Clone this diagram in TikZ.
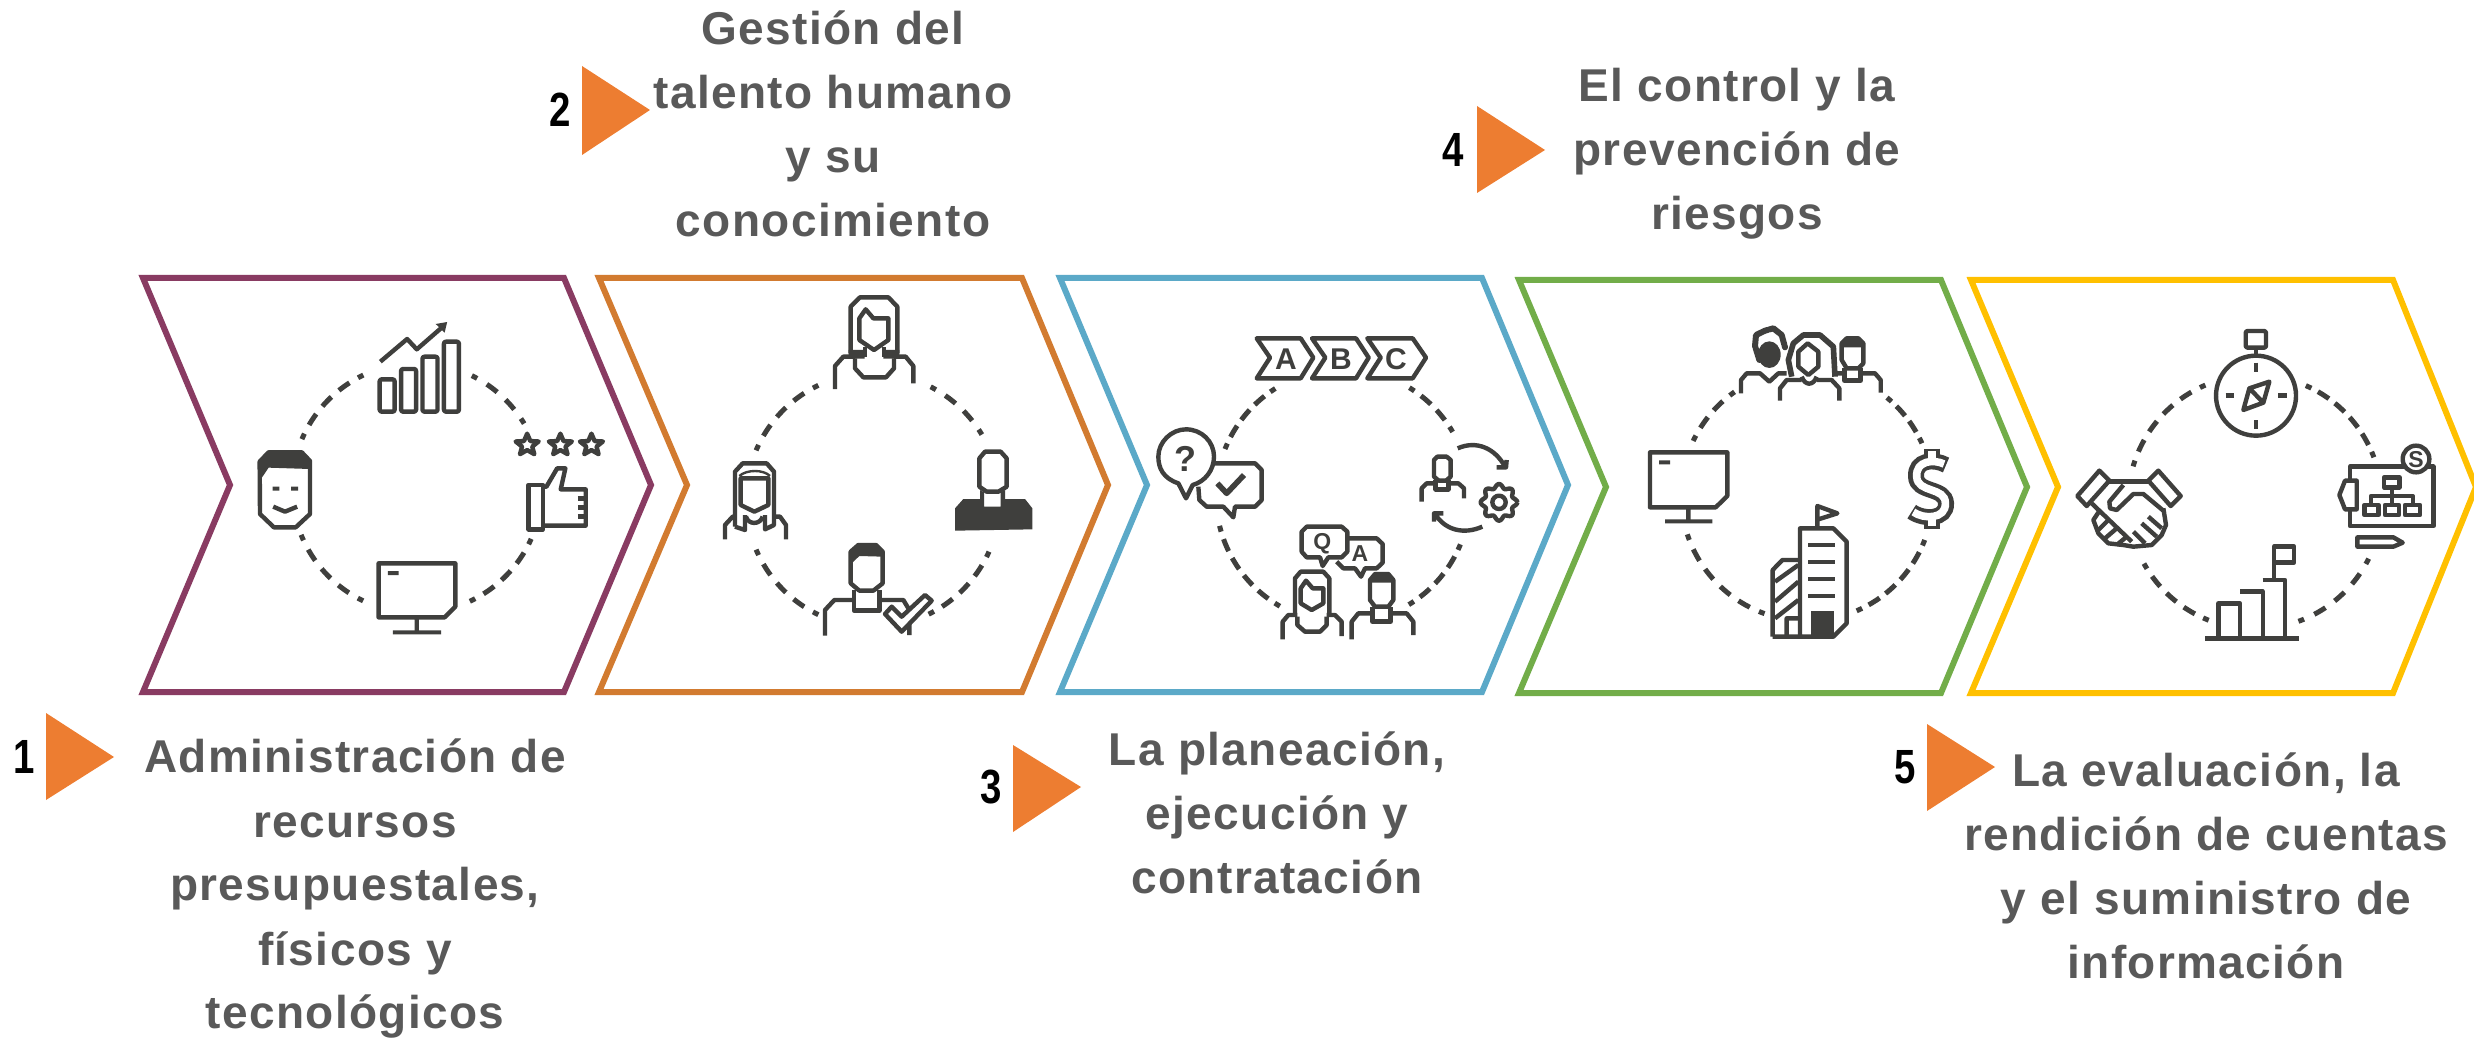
\documentclass[tikz,border=0pt]{standalone}
\usepackage{fontspec}
\setmainfont{Liberation Sans}
\newfontfamily\lblfont[LetterSpace=3]{Liberation Sans}
\definecolor{cpurple}{HTML}{893B62}
\definecolor{corange}{HTML}{D27B30}
\definecolor{cblue}{HTML}{5BA9C8}
\definecolor{cgreen}{HTML}{72AD49}
\definecolor{cgold}{HTML}{FFC000}
\definecolor{cico}{HTML}{3F3F3D}
\definecolor{ctext}{HTML}{595959}
\definecolor{ctri}{HTML}{ED7D31}
\tikzset{
  chev/.style={line width=3pt,miter limit=10,fill=white},
  ico/.style={draw=cico,line width=2.2pt,line join=round},
  icw/.style={draw=cico,fill=white,line width=2.2pt,line join=round},
  zf/.style n args={3}{shift={(#1,#2)},x=#3,y=-0.16667pt},
  lbl/.style={align=center,text=ctext,font=\lblfont\bfseries\fontsize{23pt}{32pt}\selectfont,inner sep=0pt},
  num/.style={text=black,font=\bfseries\fontsize{24pt}{28pt}\selectfont,xscale=.8,inner sep=0pt},
  tri/.style={fill=ctri,draw=none},
  glyph/.style={text=cico,font=\bfseries\fontsize{#1}{#1}\selectfont,inner sep=0pt},
}
\newcommand\cyc[6]{% cx cy R a b n
  \pgfmathsetmacro\gp{(#3*rad(#5-#4)-12-13*#6)/(#6+1)*0.5}
  \ifcase#6\or\or
    \def\dpat{on 3pt off \gp pt on 6.5pt off \gp pt on 6.5pt off \gp pt on 3pt off 100pt}\or
    \def\dpat{on 3pt off \gp pt on 6.5pt off \gp pt on 6.5pt off \gp pt on 6.5pt off \gp pt on 3pt off 100pt}\or
    \def\dpat{on 3pt off \gp pt on 6.5pt off \gp pt on 6.5pt off \gp pt on 6.5pt off \gp pt on 6.5pt off \gp pt on 3pt off 100pt}\fi
  \draw[draw=cico,line width=2.5pt,dash pattern/.expanded={\dpat}] plot[domain=#4:#5,samples=40] ({#1+#3*cos(\x)},{#2+#3*sin(\x)});
}
\newcommand\starico[3]{\draw[ico,shift={(#1,#2)},scale=#3] (0,-1)--(.26,-.35)--(.95,-.31)--(.42,.14)--(.59,.81)--(0,.45)--(-.59,.81)--(-.42,.14)--(-.95,-.31)--(-.26,-.35)--cycle;}
\begin{document}
\begin{tikzpicture}[x=0.5pt,y=-0.5pt]
\useasboundingbox (0,0) rectangle (2474,1042);
% chevrons
\draw[chev,draw=cpurple] (143,278)--(564,278)--(651,485)--(564,692)--(143,692)--(230,485)--cycle;
\draw[chev,draw=corange] (599,278)--(1022,278)--(1108,485)--(1022,692)--(599,692)--(687,485)--cycle;
\draw[chev,draw=cblue] (1060,278)--(1482,278)--(1568,485)--(1482,692)--(1060,692)--(1147,485)--cycle;
\draw[chev,draw=cgreen] (1519,280)--(1941,280)--(2027,487)--(1941,693)--(1519,693)--(1606,487)--cycle;
\draw[chev,draw=cgold] (1971,280)--(2393,280)--(2476,487)--(2393,693)--(1971,693)--(2058,487)--cycle;
% dashed rings
\cyc{417}{488}{125}{-64}{-31}{2}\cyc{417}{488}{125}{24}{65}{3}\cyc{417}{488}{125}{115.5}{158}{3}\cyc{417}{488}{125}{203}{244.6}{3}
\cyc{873}{500}{127}{-63}{-31}{2}\cyc{873}{500}{127}{24}{64}{3}\cyc{873}{500}{127}{115.5}{157}{3}\cyc{873}{500}{127}{203}{244.5}{3}
\cyc{1343}{496}{127}{-58.5}{-30.3}{2}\cyc{1343}{496}{127}{22.4}{58.8}{3}\cyc{1343}{496}{127}{119.8}{166.4}{4}\cyc{1343}{496}{127}{201.7}{237.8}{3}
\cyc{1807}{495}{126}{-50.6}{-24.2}{2}\cyc{1807}{495}{126}{20.9}{66.8}{4}\cyc{1807}{495}{126}{109.7}{161.8}{4}\cyc{1807}{495}{126}{205.4}{234.9}{2}
\cyc{2255}{502}{127}{-66.4}{-20.6}{4}\cyc{2255}{502}{127}{26.5}{70}{3}\cyc{2255}{502}{127}{111.4}{151}{3}\cyc{2255}{502}{127}{196.3}{247}{4}
% ---------- icons 1
\begin{scope}[zf={100}{260}{0.17857pt}]
\draw[ico,rounded corners=1pt] (783,358) rectangle (825,455) (843,327) rectangle (885,455) (903,290) rectangle (945,455) (963,245) rectangle (1005,455);
\draw[ico] (785,305)--(860,237)--(887,268)--(962,198);
\fill[cico] (972,186)--(940,192)--(965,218)--cycle;
\draw[ico] (447,605)--(472,577)--(565,577)--(588,603)--(588,762)--(548,802)--(487,802)--(448,762)--cycle;
\fill[cico] (447,605)--(472,577)--(565,577)--(588,603)--(588,627)--(472,623)--(452,655)--cycle;
\fill[cico] (483,680) rectangle (502,692) (535,680) rectangle (555,692);
\draw[ico] (485,740)--(518,755)--(552,740);
\starico{1196}{555}{34}\starico{1289}{555}{34}\starico{1376}{555}{34}
\draw[ico] (1200,675) rectangle (1240,808);
\draw[ico] (1240,680)--(1250,680)--(1280,625)--(1303,625)--(1290,688)--(1360,688)--(1360,797)--(1240,797);
\draw[ico] (1338,715)--(1360,715) (1338,742)--(1360,742) (1338,770)--(1360,770);
\draw[ico] (780,910)--(995,910)--(995,1040)--(965,1072)--(780,1072)--cycle (887,1072)--(887,1115);
\fill[cico] (806,933) rectangle (836,945) (820,1111) rectangle (955,1123);
\end{scope}
% ---------- icons 2
\begin{scope}[zf={590}{260}{0.16667pt}]
\draw[ico] (782,280)--(782,140)--(810,112)--(895,112)--(922,140)--(922,280);
\draw[ico] (808,240)--(808,175)--(827,148)--(850,175)--(895,175)--(895,240)--(852,270)--cycle;
\draw[ico] (825,262)--(825,290) (882,262)--(882,290);
\fill[cico] (776,270) rectangle (824,296) (880,270) rectangle (928,296);
\draw[ico] (795,295)--(795,325)--(820,352)--(888,352)--(912,325)--(912,295);
\draw[ico] (735,387)--(735,318)--(760,290)--(795,290) (970,370)--(970,318)--(947,290)--(912,290);
\draw[ico] (435,800)--(435,635)--(458,610)--(530,610)--(552,635)--(552,795)--(525,808)--(525,765) (435,800)--(465,810)--(465,765);
\draw[ico,line width=1.2pt] (448,648) .. controls (470,628) and (520,628) .. (540,648);
\draw[ico] (452,655)--(452,735)--(493,755)--(535,735)--(535,655)--cycle;
\draw[ico] (468,770) .. controls (475,795) and (510,795) .. (518,770);
\draw[ico] (405,838)--(405,795)--(428,770)--(435,770) (588,838)--(588,795)--(570,770)--(552,770);
\draw[ico] (1168,680)--(1168,595)--(1185,575)--(1232,575)--(1250,595)--(1250,680)--(1225,695)--(1190,695)--cycle;
\fill[cico] (1095,812)--(1095,745)--(1120,717)--(1170,717)--(1170,690)--(1182,697)--(1182,740)--(1232,740)--(1232,697)--(1245,690)--(1245,717)--(1305,717)--(1327,745)--(1327,808)--cycle;
\draw[ico] (782,970)--(782,875)--(805,855)--(858,855)--(878,875)--(878,970)--(850,992)--(808,992)--cycle;
\fill[cico] (782,875)--(805,855)--(858,855)--(878,875)--(878,890)--(808,888)--(790,905)--(782,915)--cycle;
\draw[ico] (792,990)--(792,1052)--(868,1052)--(868,990);
\draw[ico] (705,1127)--(705,1050)--(733,1020)--(792,1020) (868,1020)--(940,1020)--(958,1050)--(958,1125);
\draw[icw] (885,1062)--(905,1040)--(935,1070)--(1005,1005)--(1025,1022)--(935,1115)--cycle;
\end{scope}
% ---------- icons 3
\begin{scope}[zf={1060}{260}{0.16667pt}]
\draw[ico] (590,235)--(722,235)--(760,293)--(722,355)--(590,355)--(630,293)--cycle;
\draw[ico] (756,235)--(888,235)--(926,293)--(888,355)--(756,355)--(796,293)--cycle;
\draw[ico] (922,235)--(1058,235)--(1098,293)--(1058,355)--(922,355)--(962,293)--cycle;
\node[glyph=15pt] (la) at (678,297) {A};
\node[glyph=15pt] (lb) at (843,297) {B};
\node[glyph=15pt] (lc) at (1008,297) {C};
\draw[ico] (465,610)--(585,610)--(605,630)--(605,720)--(585,740)--(525,740)--(520,772)--(490,740)--(440,740)--(418,720)--(415,680);
\draw[icw] (355,670) .. controls (310,655) and (295,625) .. (295,590) .. controls (295,545) and (335,508) .. (378,508) .. controls (425,508) and (462,545) .. (462,590) .. controls (462,630) and (435,665) .. (398,675)--(378,715)--cycle;
\node[glyph=18pt] (lq) at (377,597) {?};
\draw[ico,line width=2.8pt] (472,670)--(500,700)--(552,645);
\draw[ico] (1122,650)--(1122,600)--(1132,590)--(1160,590)--(1172,600)--(1172,650)--(1158,662)--(1136,662)--cycle;
\draw[ico] (1127,660)--(1127,688)--(1165,688)--(1165,660);
\draw[ico] (1085,725)--(1085,685)--(1100,670)--(1127,670) (1165,670)--(1195,670)--(1212,685)--(1212,715);
\draw[ico,smooth] plot[domain=0:360,samples=97] ({1317+(49+6*cos(8*\x))*cos(\x)},{727+(49+6*cos(8*\x))*sin(\x)});
\draw[ico] (1317,727) circle[radius=20];
\draw[ico] (1193,565) .. controls (1250,540) and (1305,565) .. (1335,620) (1310,622)--(1338,622)--(1340,600);
\draw[ico] (1267,800) .. controls (1210,825) and (1155,810) .. (1125,762) (1150,760)--(1122,760)--(1122,785);
\draw[ico] (740,800)--(845,800)--(862,815)--(862,875)--(845,892)--(805,892)--(788,918)--(780,892)--(740,892)--(725,875)--(725,815)--cycle;
\node[glyph=11.5pt] (lqq) at (787,852) {Q};
\draw[ico] (865,835)--(950,835)--(968,852)--(968,908)--(950,925)--(915,925)--(903,950)--(885,925)--(850,925)--(830,905);
\node[glyph=11.5pt] (laa) at (900,882) {A};
\draw[ico] (705,1060)--(705,955)--(722,935)--(790,935)--(808,955)--(808,1060);
\draw[ico] (722,1030)--(722,985)--(738,962)--(758,985)--(790,985)--(790,1030)--(755,1050)--cycle;
\draw[ico] (712,1070)--(712,1095)--(735,1115)--(780,1115)--(800,1095)--(800,1070);
\draw[ico] (668,1138)--(668,1085)--(685,1065)--(712,1065) (845,1128)--(845,1085)--(825,1065)--(800,1065);
\draw[ico] (930,1020)--(930,960)--(945,942)--(985,942)--(1000,960)--(1000,1020)--(985,1040)--(945,1040)--cycle;
\fill[cico] (930,968)--(945,942)--(985,942)--(1000,968)--cycle;
\draw[ico] (937,1040)--(937,1085)--(992,1085)--(992,1040);
\draw[ico] (875,1138)--(875,1085)--(895,1060)--(937,1060) (992,1060)--(1040,1060)--(1060,1085)--(1060,1125);
\end{scope}
% ---------- icons 4
\begin{scope}[zf={1510}{260}{0.16667pt}]
\draw[ico] (420,577)--(652,577)--(652,708)--(617,742)--(420,742)--cycle (535,742)--(535,780);
\fill[cico] (447,601) rectangle (480,613) (465,778) rectangle (607,790);
\draw[draw=cico,line width=8pt] (1308,615) .. controls (1270,595) and (1215,600) .. (1218,650) .. controls (1220,700) and (1305,680) .. (1308,730) .. controls (1310,780) and (1240,780) .. (1205,755);
\draw[draw=cico,line width=8pt] (1265,566)--(1265,600) (1265,770)--(1265,806);
\draw[draw=white,line width=3.8pt] (1302,612) .. controls (1270,597) and (1217,602) .. (1220,650) .. controls (1222,700) and (1307,680) .. (1306,730) .. controls (1308,778) and (1240,778) .. (1210,756);
\draw[draw=white,line width=3.8pt] (1265,573)--(1265,605) (1265,765)--(1265,799);
\draw[ico] (870,1130)--(870,805)--(970,805)--(1010,845)--(1010,1090)--(970,1130)--cycle;
\draw[ico] (895,855)--(975,855) (895,906)--(975,906) (895,957)--(975,957) (895,1008)--(975,1008);
\fill[cico] (902,1052) rectangle (972,1130);
\draw[ico] (922,805)--(922,738)--(982,760)--(925,778);
\draw[ico] (788,1130)--(788,930)--(817,900)--(870,900) (788,1130)--(870,1130);
\draw[ico] (795,965)--(865,915) (795,1025)--(865,965) (795,1075)--(865,1020) (830,1130)--(830,1075)--(870,1075);
\fill[cico] (778,284) ellipse[x radius=34,y radius=40];
\draw[ico,line width=3pt,line cap=round,dash pattern=on 6pt off .6pt] (748,300)--(735,258)--(738,225)--(765,212)--(790,205)--(815,225)--(825,262);
\draw[ico] (693,400)--(693,360)--(710,340)--(750,340)--(778,365)--(805,340)--(830,340);
\draw[ico,line width=2.8pt] (845,350)--(835,300)--(850,250)--(880,225)--(930,225)--(970,260)--(975,350);
\draw[ico] (865,320)--(865,275)--(893,250)--(925,275)--(925,320)--(895,345)--cycle;
\draw[ico] (875,350) .. controls (885,378) and (910,378) .. (920,350);
\draw[ico] (810,422)--(810,385)--(830,360)--(875,360) (920,360)--(965,360)--(988,385)--(988,422);
\draw[ico] (995,300)--(995,250)--(1010,235)--(1045,235)--(1060,250)--(1060,310)--(1045,325)--(1010,325)--cycle;
\fill[cico] (995,262)--(1010,235)--(1045,235)--(1060,262)--cycle;
\draw[ico] (1003,325)--(1003,362)--(1052,362)--(1052,325);
\draw[ico] (1052,340)--(1095,340)--(1112,360)--(1112,398) (975,340)--(1003,340);
\end{scope}
% ---------- icons 5
\begin{scope}[zf={1960}{260}{0.16667pt}]
\draw[ico] (888,407) circle[radius=120];
\draw[ico,rounded corners=1pt] (857,213) rectangle (918,263);
\draw[ico] (888,263)--(888,283) (887,308)--(887,335) (887,480)--(887,507) (797,407)--(822,407) (955,407)--(982,407);
\draw[ico] (928,365)--(868,385)--(850,450)--(910,428)--cycle (868,385)--(910,428);
\draw[ico] (418,632)--(448,662)--(380,738)--(352,708)--cycle;
\draw[ico] (595,632)--(662,708)--(632,738)--(565,662)--cycle;
\draw[ico] (448,665)--(565,665);
\draw[ico] (395,730)--(515,845);
\draw[ico] (610,745)--(618,795)--(605,825)--(575,855)--(520,860)--(490,855)--(445,850)--(415,820)--(400,780)--(420,750);
\draw[ico] (490,675)--(448,725)--(450,745)--(470,750)--(520,702)--(550,702)--(610,752);
\draw[ico] (445,780)--(415,810) (470,805)--(435,835) (500,830)--(470,855) (565,770)--(605,805) (545,790)--(590,830) (520,815)--(555,850);
\draw[ico] (1170,620)--(1420,620)--(1420,798)--(1170,798)--cycle;
\draw[icw] (1170,662)--(1155,662)--(1138,705)--(1155,748)--(1190,748)--(1190,662)--cycle;
\draw[icw] (1368,597) circle[radius=40];
\node[glyph=11.5pt] (ls) at (1368,599) {S};
\draw[ico] (1272,652) rectangle (1318,682) (1295,682)--(1295,730) (1233,730)--(1233,708)--(1358,708)--(1358,730);
\draw[ico] (1213,735) rectangle (1255,765) (1275,735) rectangle (1317,765) (1335,735) rectangle (1380,765);
\draw[ico] (1192,832)--(1300,832)--(1328,848)--(1300,860)--(1192,860)--cycle;
\draw[ico] (775,1135)--(775,1030)--(840,1030)--(840,1135) (840,995)--(908,995)--(908,1135) (908,960)--(975,960)--(975,1135);
\draw[ico] (942,960)--(942,860)--(1002,860)--(1002,908)--(942,908);
\draw[ico] (735,1136)--(1018,1136);
\end{scope}
% markers
\fill[tri] (46,713)--(114,757)--(46,800)--cycle;
\fill[tri] (582,66)--(650,110)--(582,155)--cycle;
\fill[tri] (1013,745)--(1081,787)--(1013,832)--cycle;
\fill[tri] (1477,106)--(1545,150)--(1477,193)--cycle;
\fill[tri] (1927,724)--(1995,767)--(1927,811)--cycle;
\node[num] (n1) at (24,757) {1};
\node[num] (n2) at (560,110) {2};
\node[num] (n3) at (991,787) {3};
\node[num] (n4) at (1453,150) {4};
\node[num] (n5) at (1905,767) {5};
% labels
\node[lbl] (t1) at (355,889) {Administración de\\recursos\\presupuestales,\\físicos y\\tecnológicos};
\node[lbl] (t2) at (833,124) {Gestión del\\talento humano\\y su\\conocimiento};
\node[lbl] (t3) at (1277,813) {La planeación,\\ejecución y\\contratación};
\node[lbl] (t4) at (1737,154) {El control y la\\prevención de\\riesgos};
\node[lbl] (t5) at (2206,866) {La evaluación, la\\rendición de cuentas\\y el suministro de\\información};
\end{tikzpicture}
\end{document}
